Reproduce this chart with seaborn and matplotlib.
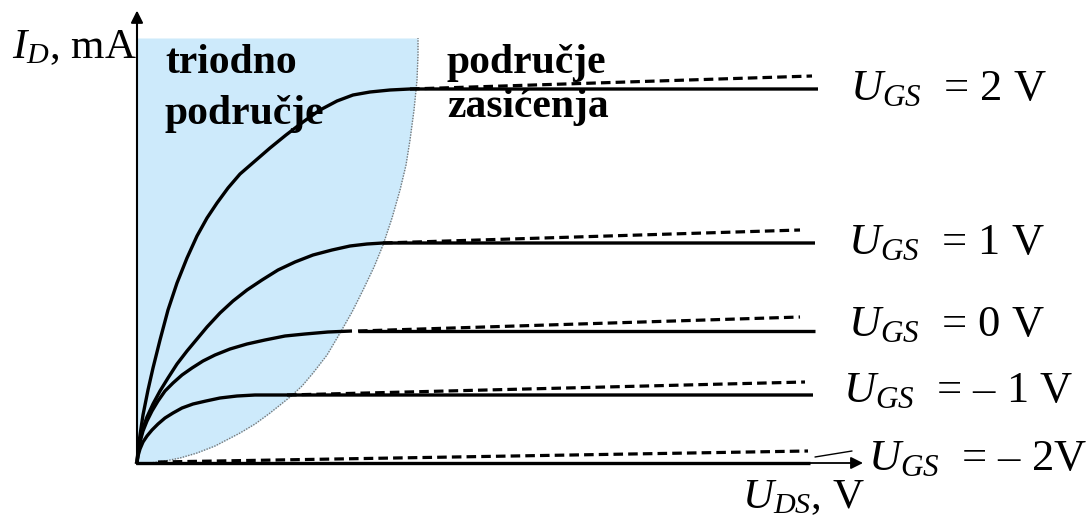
import matplotlib
matplotlib.use("Agg")
import matplotlib.pyplot as plt
import seaborn as sns

# U_DS in V, I_D in mA (schematic units)
ugs_labels = ["$U_{GS}$  = 2 V", "$U_{GS}$  = 1 V", "$U_{GS}$  = 0 V",
              "$U_{GS}$  = – 1 V", "$U_{GS}$  = – 2V"]

# triode part + flat (solid) part of each characteristic
uds_2 = [0, 0.02, 0.06, 0.12, 0.22, 0.32, 0.46, 0.62, 0.80, 1.00, 1.20, 1.40,
         1.60, 1.82, 2.06, 2.36, 2.66, 2.98, 3.32, 3.66, 4.00, 4.32, 4.66,
         5.06, 5.46, 13.62]
id_2 = [0, 0.52, 1.12, 1.92, 2.92, 3.80, 4.92, 6.12, 7.20, 8.20, 9.08, 9.80,
        10.40, 11.00, 11.56, 12.08, 12.60, 13.12, 13.64, 14.12, 14.48, 14.72,
        14.84, 14.92, 14.96, 14.96]
uds_1 = [0, 0.02, 0.06, 0.12, 0.20, 0.32, 0.46, 0.62, 0.80, 1.00, 1.20, 1.40,
         1.66, 1.92, 2.20, 2.50, 2.82, 3.16, 3.52, 3.90, 4.26, 4.60, 4.92, 13.56]
id_1 = [0, 0.44, 0.92, 1.40, 1.84, 2.36, 2.88, 3.40, 3.96, 4.48, 4.96, 5.44,
        6.00, 6.48, 6.92, 7.32, 7.72, 8.04, 8.32, 8.52, 8.68, 8.76, 8.80, 8.80]
uds_0 = [0, 0.02, 0.06, 0.12, 0.20, 0.30, 0.42, 0.56, 0.72, 0.90, 1.10, 1.32,
         1.56, 1.86, 2.20, 2.56, 2.96, 3.36, 3.82, 4.30]
id_0 = [0, 0.40, 0.84, 1.28, 1.68, 2.08, 2.48, 2.88, 3.20, 3.52, 3.80, 4.08,
        4.32, 4.56, 4.76, 4.92, 5.08, 5.16, 5.24, 5.28]
uds_0_flat = [4.42, 13.56]
id_0_flat = [5.28, 5.28]
uds_m1 = [0, 0.02, 0.06, 0.12, 0.20, 0.30, 0.42, 0.56, 0.72, 0.90, 1.12, 1.38,
          1.66, 2.00, 2.36, 3.00, 13.52]
id_m1 = [0, 0.28, 0.56, 0.84, 1.08, 1.32, 1.56, 1.80, 2.00, 2.20, 2.36, 2.48,
         2.60, 2.68, 2.72, 2.72, 2.72]
uds_m2 = [0, 13.46]
id_m2 = [0, 0]

# dashed lines (channel length modulation)
dash_u = [[5.46, 13.50], [4.92, 13.26], [4.42, 13.26], [3.00, 13.36], [0.42, 13.42]]
dash_i = [[14.96, 15.48], [8.80, 9.32], [5.28, 5.84], [2.72, 3.24], [0.04, 0.48]]

# edge of the triode region
edge_u = [0.26, 0.56, 0.86, 1.20, 1.56, 2.06, 2.36, 2.66, 3.06, 3.30, 3.52,
          3.80, 4.06, 4.30, 4.52, 4.74, 4.92, 5.10, 5.26, 5.38, 5.46, 5.54,
          5.60, 5.62, 5.62]
edge_i = [0, 0.08, 0.20, 0.40, 0.68, 1.20, 1.56, 2.00, 2.64, 3.08, 3.60,
          4.32, 5.20, 6.04, 6.92, 7.84, 8.72, 9.80, 10.92, 11.92, 12.92, 14.12,
          15.32, 16.32, 17.00]

label_u = [14.26, 14.22, 14.22, 14.12, 14.62]
label_i = [14.52, 8.36, 5.08, 2.44, -0.28]

sns.set_theme(style="white")
plt.rcParams["font.family"] = ["Liberation Serif", "DejaVu Serif"]
plt.rcParams["text.color"] = "black"
plt.rcParams["mathtext.fontset"] = "custom"
plt.rcParams["mathtext.rm"] = "Liberation Serif"
plt.rcParams["mathtext.it"] = "Liberation Serif:italic"

fig = plt.figure(figsize=(10.92, 5.2), dpi=100)
ax = fig.add_axes([0, 0, 1, 1])
ax.set_xlim(-2.74, 19.10)
ax.set_ylim(-2.28, 18.52)
ax.set_axis_off()

# light blue triode area
ax.fill_betweenx(edge_i, 0, edge_u, color="#cdeafb", lw=0, zorder=0)
ax.plot(edge_u, edge_i, color="#777777", ls=(0, (1, 1)), lw=1, zorder=1)

# axes with arrows
ax.annotate("", xy=(0, 18.1), xytext=(0, -0.05),
            arrowprops=dict(arrowstyle="-|>", color="black", lw=1.5,
                            mutation_scale=18, shrinkA=0, shrinkB=0))
ax.annotate("", xy=(14.52, 0), xytext=(-0.03, 0),
            arrowprops=dict(arrowstyle="-|>", color="black", lw=1.3,
                            mutation_scale=18, shrinkA=0, shrinkB=0))

solid = [(uds_2, id_2), (uds_1, id_1), (uds_0, id_0), (uds_0_flat, id_0_flat),
         (uds_m1, id_m1), (uds_m2, id_m2)]
for u, i in solid:
    sns.lineplot(x=u, y=i, sort=False, color="black", lw=2.4, ax=ax,
                 estimator=None, zorder=3, solid_joinstyle="round",
                 solid_capstyle="butt")

for u, i in zip(dash_u, dash_i):
    sns.lineplot(x=u, y=i, sort=False, color="black", lw=2.3, ax=ax,
                 estimator=None, zorder=3).lines[-1].set_dashes((3, 1.6))

# small leader line to the last label
ax.plot([13.56, 14.30], [0.24, 0.48], color="black", lw=1)

for txt, x, y in zip(ugs_labels, label_u, label_i):
    ax.text(x, y, txt, fontsize=32, ha="left", va="baseline")

ax.text(-2.5, 16.2, "$I_D$, mA", fontsize=31, ha="left", va="baseline")
ax.text(12.1, -1.8, "$U_{DS}$, V", fontsize=31, ha="left", va="baseline")

bold = dict(fontsize=30, fontweight="bold", ha="left", va="baseline")
ax.text(0.56, 15.6, "triodno", **bold)
ax.text(0.56, 13.56, "područje", **bold)
ax.text(6.2, 15.6, "područje", **bold)
ax.text(6.2, 13.84, "zasićenja", **bold)

fig.savefig("out.png", dpi=100)
